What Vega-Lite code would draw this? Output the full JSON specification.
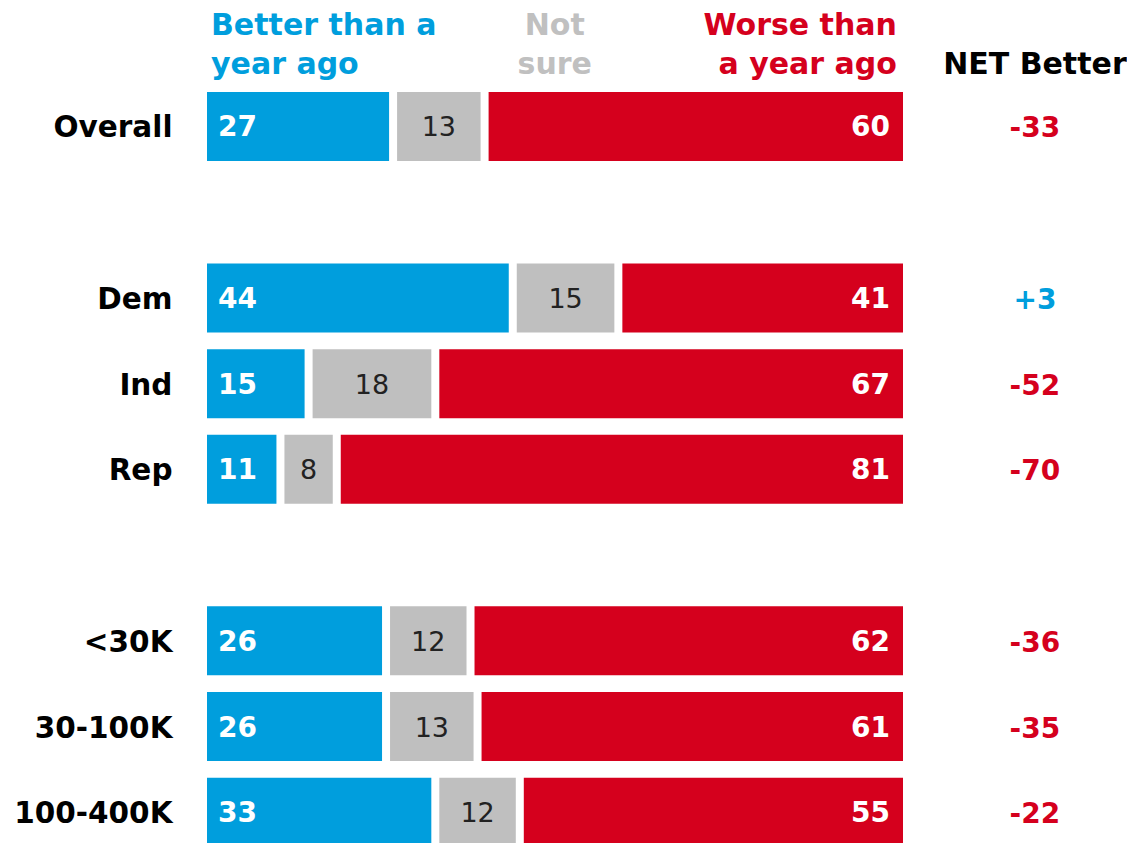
{
  "$schema": "https://vega.github.io/schema/vega-lite/v6.json",
  "width": 704,
  "height": 853,
  "padding": {"left": 13, "top": 0, "right": 0, "bottom": 0},
  "background": "white",
  "config": {"view": {"stroke": null}, "font": "DejaVu Sans"},
  "data": {"values": [
    {"group": "Overall", "better": 27, "notsure": 13, "worse": 60, "net": -33},
    {"group": "Dem", "better": 44, "notsure": 15, "worse": 41, "net": 3},
    {"group": "Ind", "better": 15, "notsure": 18, "worse": 67, "net": -52},
    {"group": "Rep", "better": 11, "notsure": 8, "worse": 81, "net": -70},
    {"group": "<30K", "better": 26, "notsure": 12, "worse": 62, "net": -36},
    {"group": "30-100K", "better": 26, "notsure": 13, "worse": 61, "net": -35},
    {"group": "100-400K", "better": 33, "notsure": 12, "worse": 55, "net": -22}
  ]},
  "encoding": {
    "y": {
      "field": "group", "type": "nominal",
      "scale": {"domain": ["hdr", "Overall", "g1", "Dem", "Ind", "Rep", "g2", "<30K", "30-100K", "100-400K"], "paddingInner": 0.195, "paddingOuter": 0.073},
      "axis": {"title": null, "domain": false, "ticks": false, "tickSize": 0, "labelPadding": 35, "labelOffset": 2, "labelFontSize": 29.5, "labelFontWeight": "bold", "labelColor": "#000000", "labelFont": "DejaVu Sans", "labelExpr": "(datum.value == 'hdr' || datum.value == 'g1' || datum.value == 'g2') ? '' : datum.value"}
    }
  },
  "layer": [
    {
      "transform": [
        {"fold": ["better", "notsure", "worse"], "as": ["key", "value"]},
        {"stack": "value", "groupby": ["group"], "sort": [{"field": "key", "order": "ascending"}], "as": ["s0", "s1"]},
        {"calculate": "(datum.s0 + datum.s1) / 2", "as": "mid"},
        {"calculate": "(datum.net > 0 ? '+' : '') + datum.net", "as": "netlabel"}
      ],
      "layer": [
        {
          "mark": {"type": "bar", "x2Offset": -8},
          "encoding": {
            "x": {"field": "s0", "type": "quantitative", "scale": {"domain": [0, 100], "nice": false, "zero": true}, "axis": null},
            "x2": {"field": "s1"},
            "color": {"field": "key", "type": "nominal", "scale": {"domain": ["better", "notsure", "worse"], "range": ["#009EDD", "#BFBFBF", "#D5001D"]}, "legend": null}
          }
        },
        {
          "transform": [{"filter": "datum.key == 'better'"}],
          "mark": {"type": "text", "align": "left", "baseline": "middle", "dx": 11, "dy": 2, "fontSize": 28, "fontWeight": "bold", "color": "#FFFFFF"},
          "encoding": {
            "x": {"field": "s0", "type": "quantitative"},
            "text": {"field": "value", "type": "quantitative"}
          }
        },
        {
          "transform": [{"filter": "datum.key == 'notsure'"}],
          "mark": {"type": "text", "align": "center", "baseline": "middle", "dx": -4, "dy": 2, "fontSize": 27, "fontWeight": "normal", "color": "#222222"},
          "encoding": {
            "x": {"field": "mid", "type": "quantitative"},
            "text": {"field": "value", "type": "quantitative"}
          }
        },
        {
          "transform": [{"filter": "datum.key == 'worse'"}],
          "mark": {"type": "text", "align": "right", "baseline": "middle", "dx": -21, "dy": 2, "fontSize": 28, "fontWeight": "bold", "color": "#FFFFFF"},
          "encoding": {
            "x": {"field": "s1", "type": "quantitative"},
            "text": {"field": "value", "type": "quantitative"}
          }
        },
        {
          "transform": [{"filter": "datum.key == 'better'"}],
          "mark": {"type": "text", "align": "center", "baseline": "middle", "dy": 3, "fontSize": 28, "fontWeight": "bold"},
          "encoding": {
            "x": {"datum": 117.6, "type": "quantitative"},
            "text": {"field": "netlabel", "type": "nominal"},
            "color": {"condition": {"test": "datum.net > 0", "value": "#009EDD"}, "value": "#D5001D"}
          }
        }
      ]
    },
    {
      "data": {"values": [{}]},
      "mark": {"type": "text", "align": "left", "baseline": "alphabetic", "dx": 4, "dy": -6, "fontSize": 30, "fontWeight": "bold", "color": "#009EDD", "lineHeight": 39, "text": ["Better than a", "year ago"]},
      "encoding": {"x": {"datum": 0, "type": "quantitative"}, "y": {"datum": "hdr", "type": "nominal"}}
    },
    {
      "data": {"values": [{}]},
      "mark": {"type": "text", "align": "center", "baseline": "alphabetic", "dy": -6, "fontSize": 30, "fontWeight": "bold", "color": "#C0C0C0", "lineHeight": 39, "text": ["Not", "sure"]},
      "encoding": {"x": {"datum": 49.4, "type": "quantitative"}, "y": {"datum": "hdr", "type": "nominal"}}
    },
    {
      "data": {"values": [{}]},
      "mark": {"type": "text", "align": "right", "baseline": "alphabetic", "dy": -6, "fontSize": 30, "fontWeight": "bold", "color": "#D5001D", "lineHeight": 39, "text": ["Worse than", "a year ago"]},
      "encoding": {"x": {"datum": 98, "type": "quantitative"}, "y": {"datum": "hdr", "type": "nominal"}}
    },
    {
      "data": {"values": [{}]},
      "mark": {"type": "text", "align": "center", "baseline": "alphabetic", "dy": 33, "fontSize": 30, "fontWeight": "bold", "color": "#000000", "text": "NET Better"},
      "encoding": {"x": {"datum": 117.6, "type": "quantitative"}, "y": {"datum": "hdr", "type": "nominal"}}
    }
  ]
}
